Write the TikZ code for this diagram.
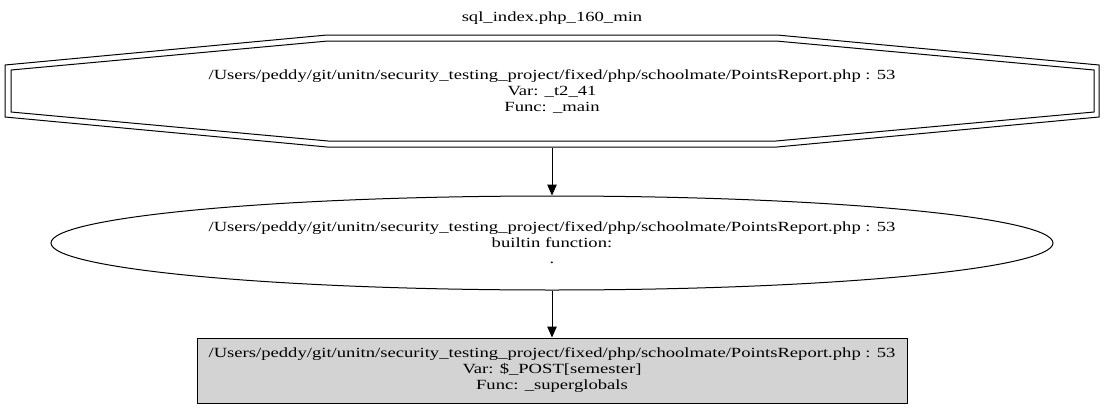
\documentclass[tikz,border=0pt]{standalone}
\usepackage{fontspec}
\setmainfont[FakeStretch=1.33]{Liberation Serif}
\usetikzlibrary{shapes.geometric,arrows.meta}
\definecolor{boxgray}{RGB}{211,211,211}
\begin{document}
\begin{tikzpicture}[x=1pt,y=-1pt,
  every node/.style={font=\fontsize{14pt}{16pt}\selectfont, align=center, inner sep=0pt},
  edge/.style={line width=1pt, -{Triangle[length=11pt,width=9.5pt]}},
  line width=1pt]
\useasboundingbox (0,0) rectangle (1104,410);
\node (ttl) at (552,18) {sql\_index.php\_160\_min};
% double octagon
\draw (5,65) -- (327,35) -- (777,35) -- (1099,65) -- (1099,117) -- (777,147) -- (327,147) -- (5,117) -- cycle;
\draw (11,70) -- (328,41) -- (776,41) -- (1094,70) -- (1094,112) -- (776,141) -- (328,141) -- (11,112) -- cycle;
\node[minimum width=1094pt, minimum height=112pt] (src) at (552,91) {/Users/peddy/git/unitn/security\_testing\_project/fixed/php/schoolmate/PointsReport.php : 53\\Var: \_t2\_41\\Func: \_main};
\node[draw, ellipse, minimum width=1002pt, minimum height=94pt] (fn) at (552,243) {/Users/peddy/git/unitn/security\_testing\_project/fixed/php/schoolmate/PointsReport.php : 53\\builtin function:\\.};
\node[draw, fill=boxgray, minimum width=710pt, minimum height=65pt] (post) at (552,370.5) {/Users/peddy/git/unitn/security\_testing\_project/fixed/php/schoolmate/PointsReport.php : 53\\Var: \$\_POST[semester]\\Func: \_superglobals};
\draw[edge] (src) -- (fn);
\draw[edge] (fn) -- (post);
\end{tikzpicture}
\end{document}
